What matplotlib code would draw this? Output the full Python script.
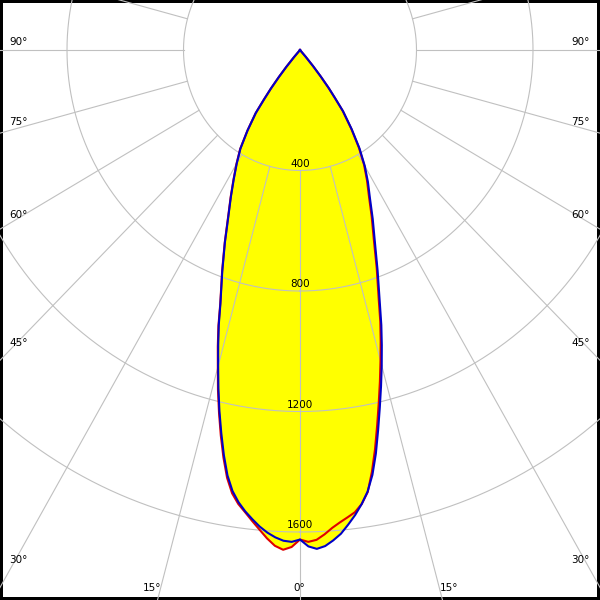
import numpy as np
import matplotlib
matplotlib.use("Agg")
from matplotlib import pyplot as plt

# gamma angles (deg from nadir), one list for each half of each C-plane
angles = [0, 1, 2, 3, 4, 5, 6, 7, 8, 9, 10, 11, 12, 13, 14, 15, 16, 17, 18,
          20, 22, 24, 26, 28, 30, 32, 34, 36, 37, 38, 39, 40, 41, 42]

blue_left = [1625, 1633, 1630, 1620, 1606, 1588, 1566, 1543, 1516, 1482, 1434, 1370, 1300, 1230,
             1158, 1086, 1019, 954, 884, 780, 688, 605, 541, 484, 434, 386, 322, 258, 205,
             162, 115, 72, 32, 0]
blue_right = [1625, 1648, 1657, 1649, 1632, 1612, 1584, 1555, 1522, 1484, 1432, 1365, 1290, 1218,
              1150, 1084, 1019, 955, 888, 779, 686, 614, 548, 497, 445, 386, 318, 252, 200,
              160, 113, 70, 30, 0]
red_left = [1625, 1650, 1660, 1648, 1625, 1598, 1572, 1546, 1522, 1490, 1442, 1378, 1308, 1236,
            1164, 1090, 1024, 958, 886, 782, 690, 607, 543, 486, 436, 388, 323, 259, 206,
            162, 115, 72, 32, 0]
red_right = [1625, 1633, 1627, 1610, 1590, 1574, 1560, 1546, 1522, 1486, 1422, 1350, 1274, 1202,
             1134, 1068, 1005, 943, 876, 770, 676, 605, 540, 490, 440, 381, 314, 249, 198,
             158, 112, 69, 30, 0]

rings = [400, 800, 1200, 1600]
ring_labels = ["400", "800", "1200", "1600"]

# angle labels along the picture border: (text, x px, y px, ha)
edge_labels = [
    ("90°", 9, 42, "left"), ("75°", 9, 122, "left"), ("60°", 9, 215, "left"),
    ("45°", 9, 343, "left"), ("30°", 9, 560, "left"),
    ("90°", 590, 42, "right"), ("75°", 590, 122, "right"), ("60°", 590, 215, "right"),
    ("45°", 590, 343, "right"), ("30°", 590, 560, "right"),
    ("15°", 161, 588, "right"), ("0°", 299, 588, "center"), ("15°", 440, 588, "left"),
]

W = H = 600
R = 2200
px_x = 116.5 / 400   # pixels per cd horizontally
px_y = 120.5 / 400   # the original is slightly stretched vertically
cx, cy = 300, 50

grid_col = "#c0c0c0"
fill_col = "#ffff00"
red = "#e00000"
blue = "#0000c8"

fig = plt.figure(figsize=(6, 6), dpi=100)
fig.patch.set_facecolor("white")
fig.patch.set_edgecolor("black")
fig.patch.set_linewidth(3.2)

w = 2 * R * px_x
h = 2 * R * px_y
ax = fig.add_axes([(cx - w / 2) / W, (H - cy - h / 2) / H, w / W, h / H], projection="polar")
ax.set_theta_zero_location("S")
ax.set_theta_direction(1)
ax.set_aspect("auto")
ax.set_ylim(0, R)
ax.grid(False)
ax.set_xticks([])
ax.set_yticks([])
ax.spines["polar"].set_visible(False)
ax.patch.set_alpha(0)


def full_curve(left, right):
    a = np.array(angles, dtype=float)
    th = np.deg2rad(np.concatenate([-a[::-1], a[1:]]))
    r = np.concatenate([np.array(left[::-1], float), np.array(right[1:], float)])
    return th, r


th_r, r_r = full_curve(red_left, red_right)
th_b, r_b = full_curve(blue_left, blue_right)

ax.fill(th_r, r_r, color=fill_col, lw=0, zorder=1)
ax.fill(th_b, r_b, color=fill_col, lw=0, zorder=1)

# grid: rings and radial spokes that start at the first ring
t = np.linspace(0, 2 * np.pi, 1441)
for rr in rings:
    ax.plot(t, np.full_like(t, rr), color=grid_col, lw=0.8, zorder=2)
for a in range(0, 360, 15):
    ax.plot([np.deg2rad(a)] * 2, [rings[0], R], color=grid_col, lw=0.8, zorder=2)

ax.plot(th_r, r_r, color=red, lw=1.5, zorder=3, solid_joinstyle="round")
ax.plot(th_b, r_b, color=blue, lw=1.5, zorder=4, solid_joinstyle="round")

for rr, lab in zip(rings, ring_labels):
    ax.text(0, rr - 5, lab, ha="center", va="bottom", fontsize=7.5, color="black", zorder=5)

for txt, x, y, ha in edge_labels:
    fig.text(x / W, 1 - y / H, txt, ha=ha, va="center", fontsize=7.5, color="black")

fig.savefig("out.png", dpi=100)
